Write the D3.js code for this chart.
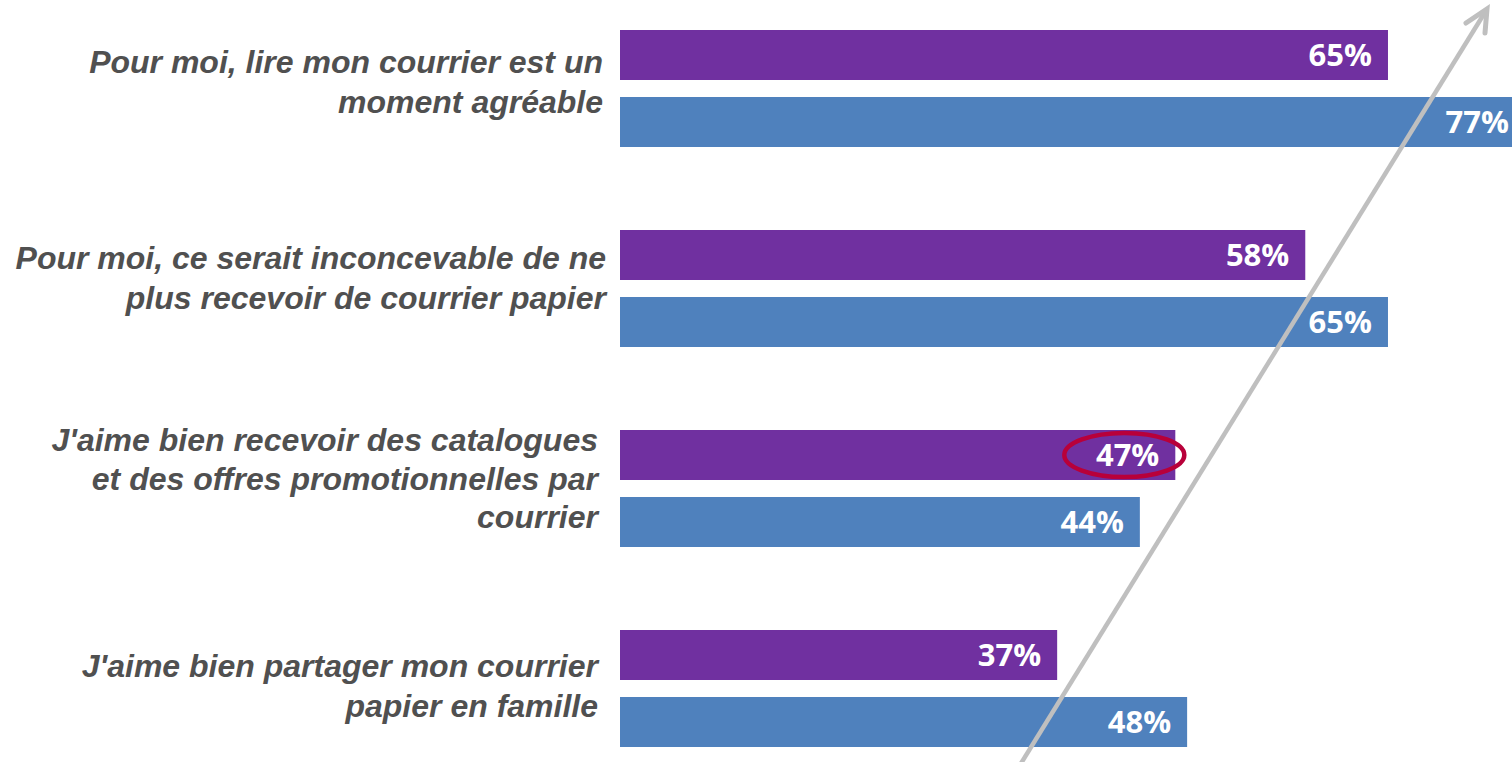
<!DOCTYPE html>
<html><head><meta charset="utf-8">
<script src="https://cdn.jsdelivr.net/npm/d3@7"></script>
<style>html,body{margin:0;padding:0;background:#fff;overflow:hidden}</style>
</head><body>
<svg id="chart" width="1512" height="762"></svg>
<script>
const categories = [
  "Pour moi, lire mon courrier est un moment agréable",
  "Pour moi, ce serait inconcevable de ne plus recevoir de courrier papier",
  "J'aime bien recevoir des catalogues et des offres promotionnelles par courrier",
  "J'aime bien partager mon courrier papier en famille"
];
const categoryLines = [
  ["Pour moi, lire mon courrier est un", "moment agréable"],
  ["Pour moi, ce serait inconcevable de ne", "plus recevoir de courrier papier"],
  ["J'aime bien recevoir des catalogues", "et des offres promotionnelles par", "courrier"],
  ["J'aime bien partager mon courrier", "papier en famille"]
];
const seriesNames = ["Série 1", "Série 2"];
const series1 = [65, 58, 47, 37];
const series2 = [77, 65, 44, 48];
const highlighted = {series: 0, category: 2};

const svg = d3.select("#chart");
const W = 1512;
const colors = d3.scaleOrdinal().domain(seriesNames).range(["#7030A0", "#4F81BD"]);

const x = d3.scaleLinear().domain([0, 100]).range([620, 1801.5]);
const y0 = d3.scaleBand().domain(categories).range([30, 747]).paddingInner(0.415).paddingOuter(0);
const y1 = d3.scaleBand().domain(seriesNames).range([0, y0.bandwidth()]).paddingInner(0.2537).paddingOuter(0);

const data = categories.map((c, i) => ({cat: c, i, vals: [
  {s: seriesNames[0], v: series1[i], si: 0},
  {s: seriesNames[1], v: series2[i], si: 1}
]}));

const g = svg.append("g");
const groups = g.selectAll("g.grp").data(data).join("g")
  .attr("class", "grp")
  .attr("transform", d => `translate(0,${y0(d.cat)})`);

groups.selectAll("rect").data(d => d.vals).join("rect")
  .attr("x", x(0))
  .attr("y", d => y1(d.s))
  .attr("width", d => x(d.v) - x(0))
  .attr("height", y1.bandwidth())
  .attr("fill", d => colors(d.s));

groups.selectAll("text.val").data(d => d.vals).join("text")
  .attr("class", "val")
  .attr("x", d => Math.min(x(d.v) - 16, W - 3))
  .attr("y", d => y1(d.s) + y1.bandwidth() / 2 + 11)
  .attr("text-anchor", "end")
  .attr("fill", "#ffffff")
  .style("font-family", "'Open Sans', sans-serif")
  .style("font-weight", "700")
  .style("font-size", "31px")
  .text(d => d.v + "%");

// category labels (layout tweaks per text box)
const labelRight = [603, 606, 598, 598];
const labelShift = [4.5, 0.5, 1, 8.5];
const lineH = [40, 40, 38.5, 40];
groups.each(function(d) {
  const lines = categoryLines[d.i];
  const mid = y0.bandwidth() / 2 + labelShift[d.i];
  const t = d3.select(this).append("text")
    .attr("text-anchor", "end")
    .attr("fill", "#505050")
    .style("font-family", "'Liberation Sans', Arial, sans-serif")
    .style("font-weight", "700")
    .style("font-style", "italic")
    .style("font-size", "32px");
  lines.forEach((ln, k) => {
    t.append("tspan")
      .attr("x", labelRight[d.i])
      .attr("y", mid + (k - (lines.length - 1) / 2) * lineH[d.i])
      .text(ln);
  });
});

// highlight ellipse around selected value
const hd = data[highlighted.category].vals[highlighted.series];
svg.append("ellipse")
  .attr("cx", x(hd.v) - 51)
  .attr("cy", y0(categories[highlighted.category]) + y1(hd.s) + y1.bandwidth() / 2)
  .attr("rx", 60)
  .attr("ry", 22)
  .attr("fill", "none")
  .attr("stroke", "#B8003A")
  .attr("stroke-width", 4.5);

// trend arrow
const ax0 = 1020, ay0 = 765, ax1 = 1487, ay1 = 9;
svg.append("line")
  .attr("x1", ax0).attr("y1", ay0).attr("x2", ax1).attr("y2", ay1)
  .attr("stroke", "#BFBFBF").attr("stroke-width", 4.5);
svg.append("path")
  .attr("d", `M1466,23 L${ax1},${ay1} L1485,33`)
  .attr("fill", "none")
  .attr("stroke", "#BFBFBF").attr("stroke-width", 5)
  .attr("stroke-linecap", "round").attr("stroke-linejoin", "miter");
</script>
</body></html>
